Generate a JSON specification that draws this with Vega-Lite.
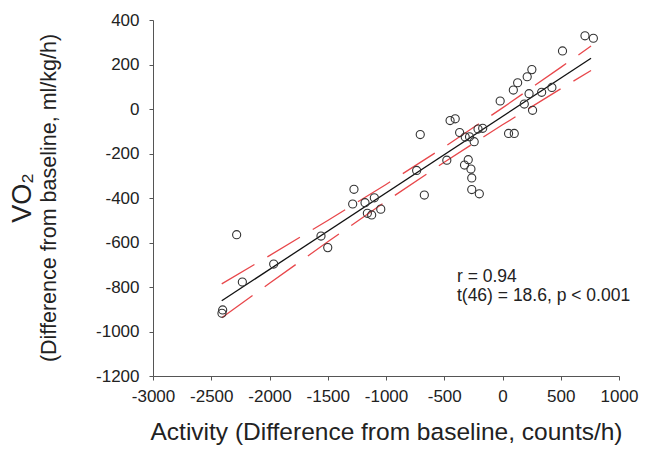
{
  "$schema": "https://vega.github.io/schema/vega-lite/v6.json",
  "width": 466,
  "height": 356,
  "autosize": {"type": "none"},
  "padding": {"left": 153, "top": 20, "right": 38, "bottom": 83},
  "background": "white",
  "title": {
    "text": "VO₂",
    "subtitle": "(Difference from baseline, ml/kg/h)",
    "orient": "left",
    "anchor": "middle",
    "font": "Liberation Sans",
    "subtitleFont": "Liberation Sans",
    "fontSize": 27,
    "subtitleFontSize": 21.5,
    "fontWeight": "normal",
    "color": "#222222",
    "subtitleColor": "#222222",
    "subtitlePadding": 2,
    "offset": 34
  },
  "config": {
    "view": {"stroke": null},
    "axis": {
      "grid": false,
      "domainColor": "#555555",
      "tickColor": "#555555",
      "tickSize": 4,
      "labelFont": "Liberation Sans",
      "labelFontSize": 17,
      "labelColor": "#222222",
      "titleFont": "Liberation Sans",
      "titleFontWeight": "normal",
      "titleColor": "#222222"
    }
  },
  "datasets": {
    "points": [
      {"activity": 708, "vo2": 329}, {"activity": 780, "vo2": 318}, {"activity": 515, "vo2": 261},
      {"activity": 252, "vo2": 177}, {"activity": 212, "vo2": 145}, {"activity": 130, "vo2": 118},
      {"activity": 93, "vo2": 85}, {"activity": 228, "vo2": 69}, {"activity": 336, "vo2": 75},
      {"activity": 424, "vo2": 97}, {"activity": 187, "vo2": 22}, {"activity": 258, "vo2": -6},
      {"activity": -20, "vo2": 36}, {"activity": 52, "vo2": -110}, {"activity": 101, "vo2": -110},
      {"activity": -450, "vo2": -52}, {"activity": -406, "vo2": -44}, {"activity": -706, "vo2": -115},
      {"activity": -368, "vo2": -106}, {"activity": -320, "vo2": -126}, {"activity": -283, "vo2": -125},
      {"activity": -243, "vo2": -147}, {"activity": -210, "vo2": -90}, {"activity": -170, "vo2": -87},
      {"activity": -478, "vo2": -230}, {"activity": -326, "vo2": -252}, {"activity": -294, "vo2": -228},
      {"activity": -271, "vo2": -270}, {"activity": -264, "vo2": -310}, {"activity": -264, "vo2": -362},
      {"activity": -199, "vo2": -381}, {"activity": -737, "vo2": -276}, {"activity": -671, "vo2": -387},
      {"activity": -1275, "vo2": -361}, {"activity": -1286, "vo2": -427}, {"activity": -1180, "vo2": -421},
      {"activity": -1100, "vo2": -399}, {"activity": -1160, "vo2": -469}, {"activity": -1123, "vo2": -476},
      {"activity": -1045, "vo2": -450}, {"activity": -2282, "vo2": -565}, {"activity": -2233, "vo2": -778},
      {"activity": -2402, "vo2": -903}, {"activity": -2408, "vo2": -918}, {"activity": -1964, "vo2": -697},
      {"activity": -1558, "vo2": -571}, {"activity": -1500, "vo2": -623}
    ],
    "fit": [
      {"activity": -2410, "vo2": -862},
      {"activity": 760, "vo2": 228}
    ],
    "band": [
      {"activity": -2410, "vo2": -786, "side": "upper"},
      {"activity": -2000, "vo2": -659, "side": "upper"},
      {"activity": -1500, "vo2": -501, "side": "upper"},
      {"activity": -1000, "vo2": -339, "side": "upper"},
      {"activity": -500, "vo2": -171, "side": "upper"},
      {"activity": 0, "vo2": 5, "side": "upper"},
      {"activity": 500, "vo2": 187, "side": "upper"},
      {"activity": 760, "vo2": 283, "side": "upper"},
      {"activity": -2410, "vo2": -938, "side": "lower"},
      {"activity": -2000, "vo2": -783, "side": "lower"},
      {"activity": -1500, "vo2": -597, "side": "lower"},
      {"activity": -1000, "vo2": -415, "side": "lower"},
      {"activity": -500, "vo2": -239, "side": "lower"},
      {"activity": 0, "vo2": -71, "side": "lower"},
      {"activity": 500, "vo2": 91, "side": "lower"},
      {"activity": 760, "vo2": 173, "side": "lower"}
    ],
    "notes": [
      {"activity": -391, "vo2": -755, "label": "r = 0.94"},
      {"activity": -391, "vo2": -842, "label": "t(46) = 18.6, p < 0.001"}
    ]
  },
  "encoding": {
    "x": {
      "field": "activity",
      "type": "quantitative",
      "scale": {"domain": [-3000, 1000], "nice": false, "zero": false},
      "axis": {
        "values": [-3000, -2500, -2000, -1500, -1000, -500, 0, 500, 1000],
        "title": "Activity (Difference from baseline, counts/h)",
        "titleFontSize": 24.5,
        "titlePadding": 16,
        "labelPadding": 8,
        "labelFlush": false,
        "labelExpr": "'' + datum.value"
      }
    },
    "y": {
      "field": "vo2",
      "type": "quantitative",
      "scale": {"domain": [-1200, 400], "nice": false, "zero": false},
      "axis": {
        "values": [-1200, -1000, -800, -600, -400, -200, 0, 200, 400],
        "title": null,
        "labelPadding": 10,
        "labelFlush": false,
        "labelExpr": "'' + datum.value"
      }
    }
  },
  "layer": [
    {
      "data": {"name": "band"},
      "mark": {"type": "line", "color": "#e8474b", "strokeWidth": 1.3, "strokeDash": [38, 15]},
      "encoding": {"detail": {"field": "side"}}
    },
    {
      "data": {"name": "fit"},
      "mark": {"type": "line", "color": "#111111", "strokeWidth": 1.3},
      "encoding": {}
    },
    {
      "data": {"name": "points"},
      "mark": {"type": "point", "shape": "circle", "filled": false, "stroke": "#333333", "strokeWidth": 1.1, "size": 66, "opacity": 1}
    },
    {
      "data": {"name": "notes"},
      "mark": {"type": "text", "align": "left", "baseline": "middle", "font": "Liberation Sans", "fontSize": 17.5, "color": "#222222"},
      "encoding": {"text": {"field": "label"}}
    }
  ]
}
